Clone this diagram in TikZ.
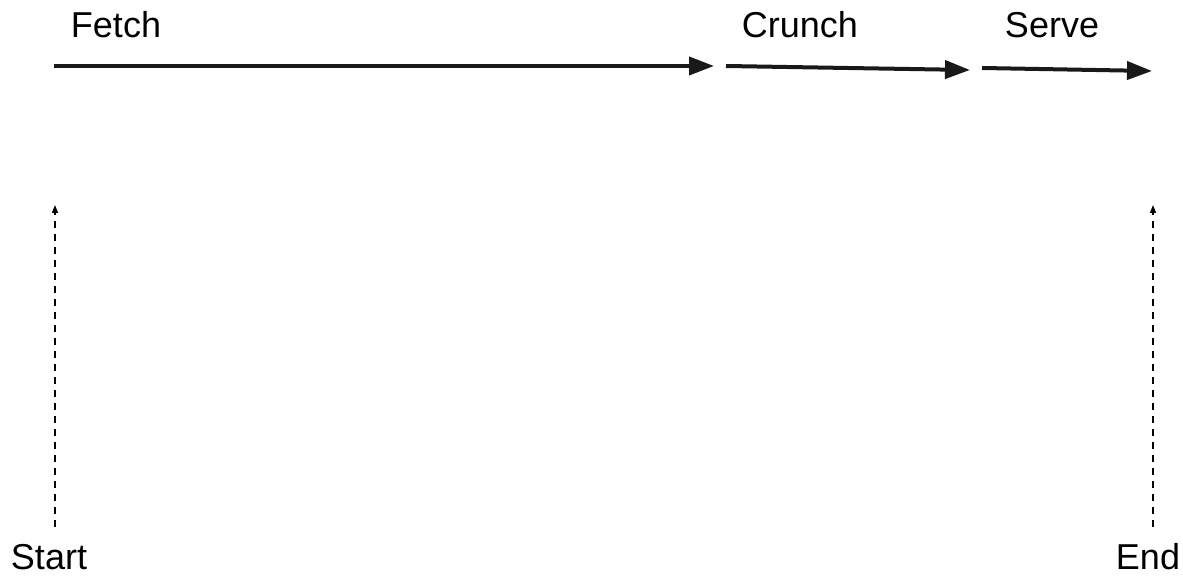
\documentclass[tikz,border=0pt]{standalone}
\usepackage{fontspec}
\setmainfont{Liberation Sans}
\usetikzlibrary{arrows.meta}

\tikzset{
  stage/.style={-{Triangle[length=12.5pt,width=9pt]}, line width=2pt, draw=black!90},
  marker/.style={-{Triangle[length=4pt,width=3pt]}, line width=0.75pt, dash pattern=on 3.5pt off 3pt},
  lbl/.style={anchor=base, inner sep=0pt, font=\fontsize{18}{20}\selectfont}
}

\begin{document}
\begin{tikzpicture}[x=0.5pt, y=-0.5pt]
\useasboundingbox (0,0) rectangle (1183,576);

\node[lbl](fetch) at (116,38) {Fetch};
\node[lbl](crunch) at (800,38) {Crunch};
\node[lbl](serve) at (1052,38) {Serve};
\node[lbl](start) at (49,570) {Start};
\node[lbl](end) at (1148,570) {End};

\coordinate(f0) at (54,66);
\coordinate(f1) at (714,66);
\coordinate(c0) at (726,66);
\coordinate(c1) at (970,70);
\coordinate(s0) at (982,68);
\coordinate(s1) at (1152,71);
\coordinate(t0) at (55,527);
\coordinate(t1) at (55,205);
\coordinate(e0) at (1153,527);
\coordinate(e1) at (1153,205);

\draw[stage] (f0) -- (f1);
\draw[stage] (c0) -- (c1);
\draw[stage] (s0) -- (s1);

\draw[marker] (t0) -- (t1);
\draw[marker] (e0) -- (e1);
\end{tikzpicture}
\end{document}
